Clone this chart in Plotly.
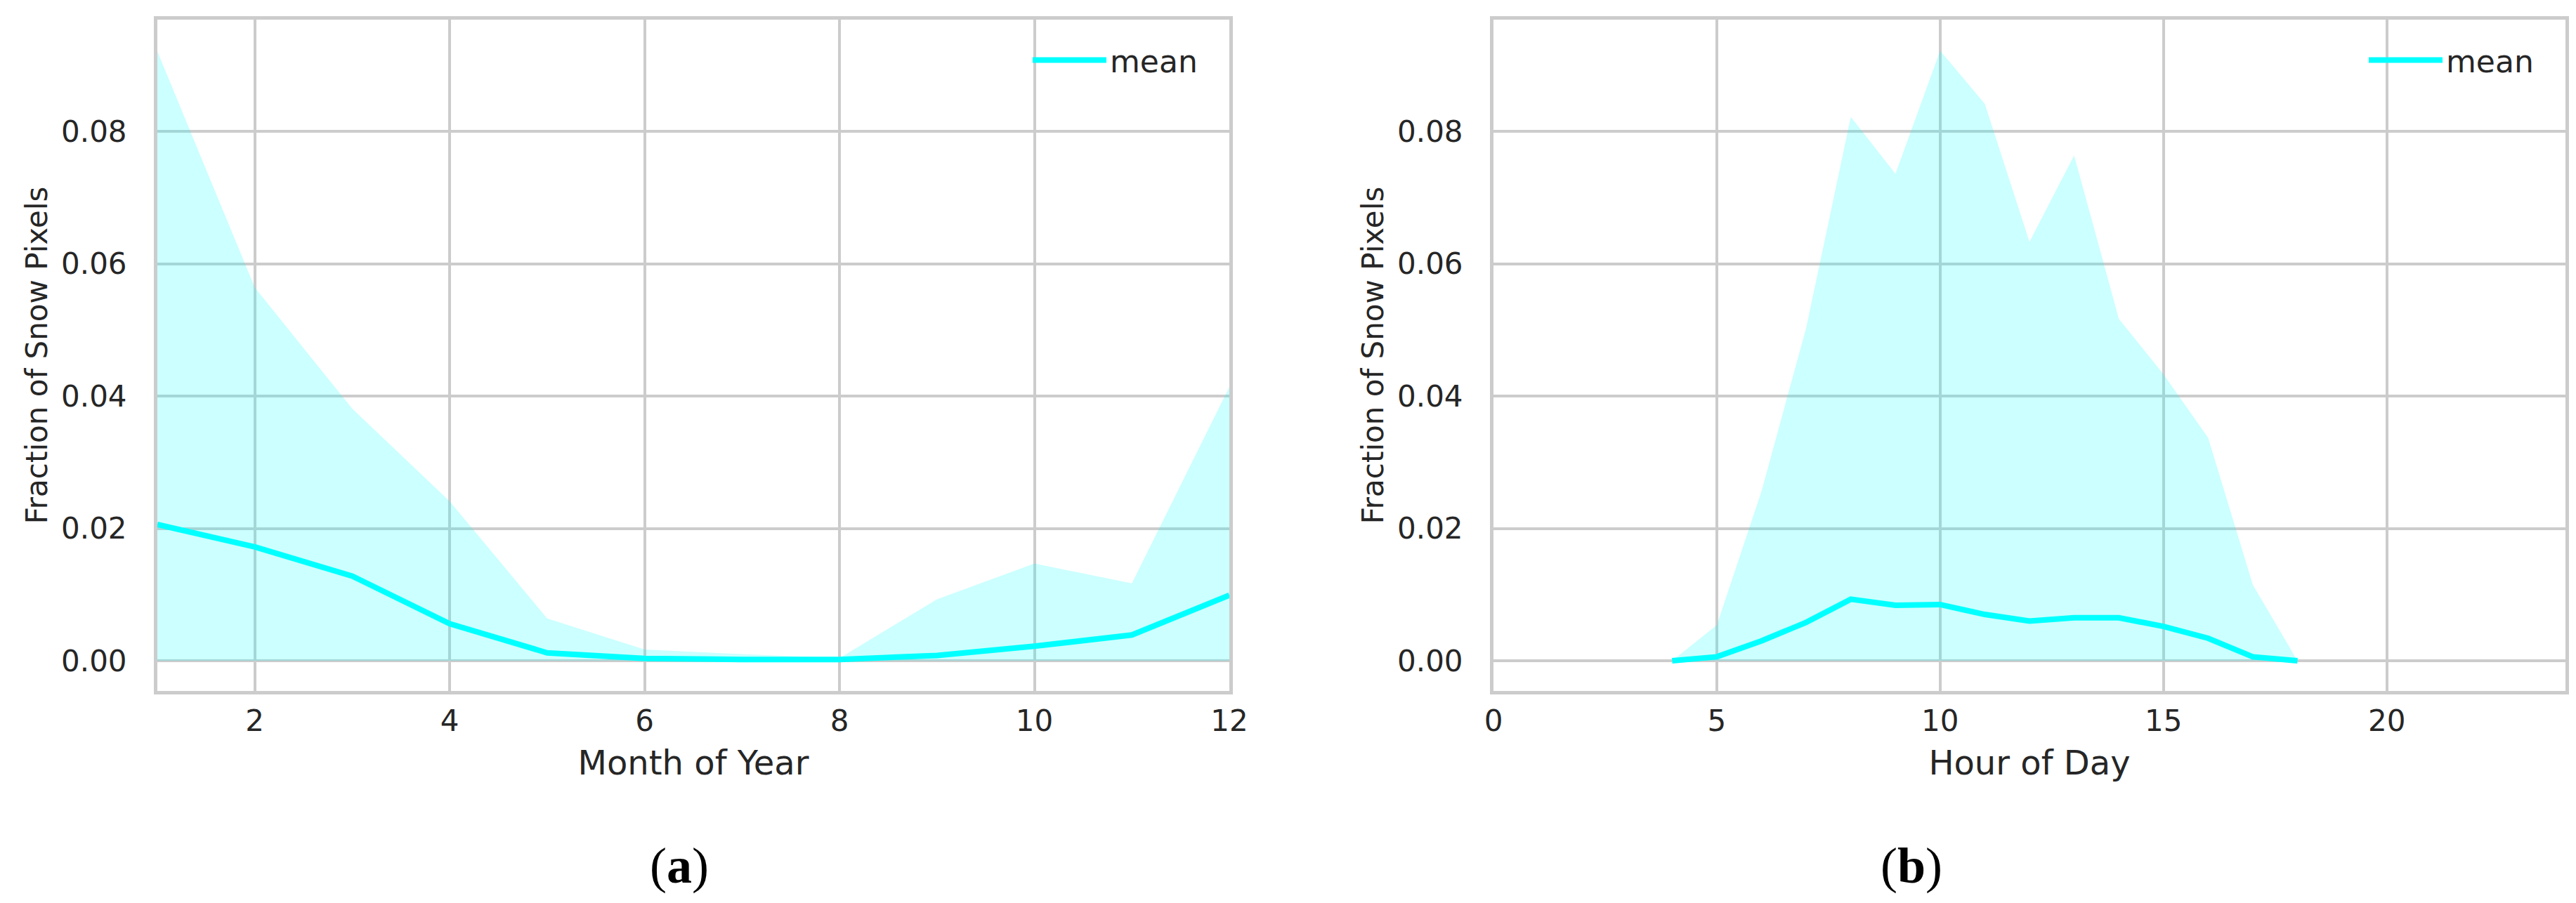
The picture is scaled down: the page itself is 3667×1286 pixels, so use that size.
import plotly.graph_objects as go
from plotly.subplots import make_subplots

# ---- data ----
months = [1, 2, 3, 4, 5, 6, 7, 8, 9, 10, 11, 12]
month_mean = [0.0206, 0.0172, 0.0128, 0.0056, 0.0012, 0.00035, 0.0002, 0.0002, 0.0008, 0.0022, 0.0039, 0.0099]
month_upper = [0.0921, 0.0564, 0.0381, 0.0241, 0.0064, 0.0017, 0.0010, 0.0004, 0.0093, 0.0147, 0.0117, 0.0414]
month_lower = [0, 0, 0, 0, 0, 0, 0, 0, 0, 0, 0, 0]

hours = [4, 5, 6, 7, 8, 9, 10, 11, 12, 13, 14, 15, 16, 17, 18]
hour_mean = [0.0, 0.0006, 0.0030, 0.0058, 0.0093, 0.0084, 0.0085, 0.0070, 0.0060, 0.0065, 0.0065, 0.0052, 0.0034, 0.0006, 0.0]
hour_upper = [0.0, 0.0054, 0.0256, 0.0503, 0.0822, 0.0736, 0.0922, 0.0842, 0.0633, 0.0764, 0.0517, 0.0433, 0.0337, 0.0115, 0.0]
hour_lower = [0, 0, 0, 0, 0, 0, 0, 0, 0, 0, 0, 0, 0, 0, 0]

y_title = "Fraction of Snow Pixels"
x_titles = ["Month of Year", "Hour of Day"]
panel_letters = ["a", "b"]

LINE = "#00ffff"
FILL = "rgba(0,255,255,0.2)"
GRID = "#cccccc"
TXT = "#262626"
FONT = "DejaVu Sans"

fig = make_subplots(rows=1, cols=2, horizontal_spacing=0.11)

def add_panel(x, lower, upper, mean, col, legend):
    fig.add_trace(go.Scatter(x=x, y=lower, mode="lines", line=dict(width=0, color=LINE),
                             showlegend=False, hoverinfo="skip"), row=1, col=col)
    fig.add_trace(go.Scatter(x=x, y=upper, mode="lines", line=dict(width=0, color=LINE),
                             fill="tonexty", fillcolor=FILL, showlegend=False, hoverinfo="skip"),
                  row=1, col=col)
    fig.add_trace(go.Scatter(x=x, y=mean, mode="lines", name="mean",
                             line=dict(color=LINE, width=8), legend=legend), row=1, col=col)

add_panel(months, month_lower, month_upper, month_mean, 1, "legend")
add_panel(hours, hour_lower, hour_upper, hour_mean, 2, "legend2")

W, H = 3667, 1286
ML, MR, MT, MB = 216, 23, 20, 310
PW = W - ML - MR
PH = H - MT - MB

def px_x(p):
    return (p - ML) / PW

def px_y(p):
    return (H - MB - p) / PH

axis_common = dict(showgrid=True, gridcolor=GRID, gridwidth=4, zeroline=False,
                   showline=True, linecolor=GRID, linewidth=5, mirror=True,
                   ticks="", tickfont=dict(family=FONT, size=42, color=TXT))

fig.update_xaxes(**axis_common)
fig.update_yaxes(**axis_common)

fig.update_xaxes(domain=[0, px_x(1742)], range=[1, 12], tick0=0, dtick=2,
                 ticklabelstandoff=2, automargin=True,
                 title=dict(text=x_titles[0], font=dict(family=FONT, size=48, color=TXT), standoff=20),
                 row=1, col=1)
fig.update_xaxes(domain=[px_x(2118), 1], range=[0, 24], tick0=0, dtick=5,
                 ticklabelstandoff=2, automargin=True,
                 title=dict(text=x_titles[1], font=dict(family=FONT, size=48, color=TXT), standoff=20),
                 row=1, col=2)

yrange = [-0.00456, 0.0969]
for c in (1, 2):
    fig.update_yaxes(domain=[0, 1], range=yrange, tick0=0, dtick=0.02, tickformat=".2f",
                     ticklabelstandoff=30, automargin=True,
                     title=dict(text=y_title, font=dict(family=FONT, size=42, color=TXT), standoff=8),
                     row=1, col=c)

for letter, xc in zip(panel_letters, (959, 2713)):
    fig.add_annotation(text="(<b>" + letter + "</b>)", xref="paper", yref="paper",
                       x=px_x(xc), y=px_y(1225), xanchor="center", yanchor="middle", showarrow=False,
                       font=dict(family="Liberation Serif", size=72, color="#000000"))

legend_style = dict(font=dict(family=FONT, size=44, color=TXT), bgcolor="rgba(0,0,0,0)",
                    borderwidth=0, xanchor="right", yanchor="middle", itemwidth=105)
fig.update_layout(
    width=W, height=H,
    margin=dict(l=ML, r=MR, t=MT, b=MB, autoexpand=False),
    plot_bgcolor="white", paper_bgcolor="white",
    legend=dict(x=px_x(1702), y=px_y(78), **legend_style),
    legend2=dict(x=px_x(3604), y=px_y(78), **legend_style),
)

fig.write_html("out.html")
